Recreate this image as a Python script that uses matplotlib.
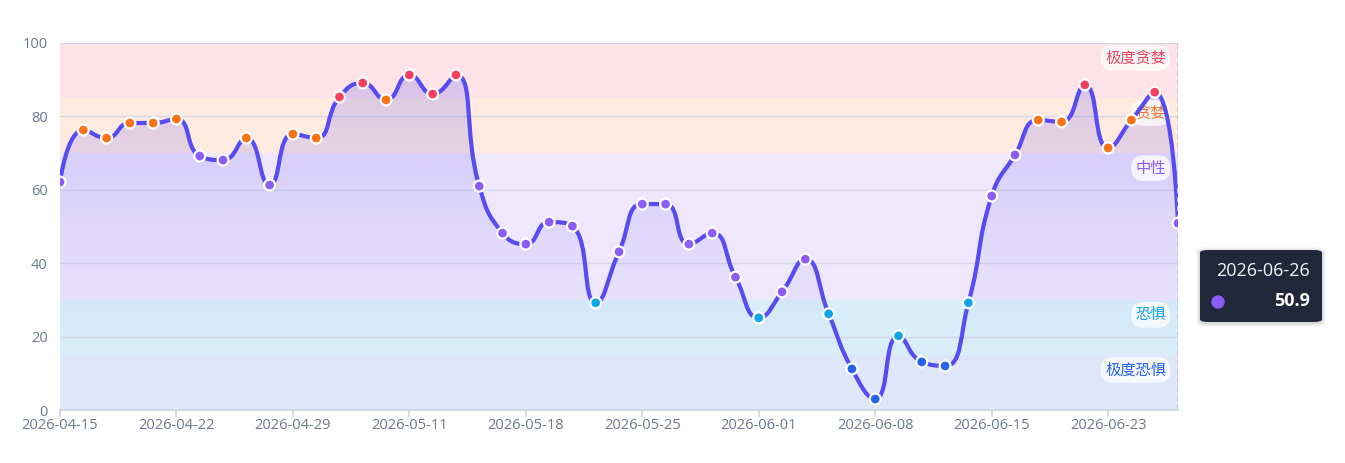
import matplotlib
matplotlib.use("Agg")
import matplotlib.pyplot as plt
from matplotlib.path import Path
from matplotlib.patches import PathPatch, FancyBboxPatch, Ellipse
from matplotlib.colors import to_rgb
import numpy as np

# ---------------- data ----------------
dates = [
    "2026-04-15", "2026-04-16", "2026-04-17", "2026-04-20", "2026-04-21",
    "2026-04-22", "2026-04-23", "2026-04-24", "2026-04-27", "2026-04-28",
    "2026-04-29", "2026-04-30", "2026-05-06", "2026-05-07", "2026-05-08",
    "2026-05-11", "2026-05-12", "2026-05-13", "2026-05-14", "2026-05-15",
    "2026-05-18", "2026-05-19", "2026-05-20", "2026-05-21", "2026-05-22",
    "2026-05-25", "2026-05-26", "2026-05-27", "2026-05-28", "2026-05-29",
    "2026-06-01", "2026-06-02", "2026-06-03", "2026-06-04", "2026-06-05",
    "2026-06-08", "2026-06-09", "2026-06-10", "2026-06-11", "2026-06-12",
    "2026-06-15", "2026-06-16", "2026-06-17", "2026-06-18", "2026-06-22",
    "2026-06-23", "2026-06-24", "2026-06-25", "2026-06-26",
]
values = [
    62.1, 76.3, 74.1, 78.2, 78.2, 79.3, 69.2, 68.1, 74.1, 61.3,
    75.2, 74.1, 85.3, 89.1, 84.5, 91.3, 86.1, 91.3, 61.0, 48.2,
    45.2, 51.2, 50.1, 29.2, 43.1, 56.1, 56.1, 45.2, 48.2, 36.2,
    25.1, 32.2, 41.1, 26.2, 11.2, 3.0, 20.2, 13.1, 12.0, 29.2,
    58.3, 69.5, 79.0, 78.5, 88.6, 71.4, 79.0, 86.6, 50.9,
]
zone_names = ["极度恐惧", "恐惧", "中性", "贪婪", "极度贪婪"]
zone_bounds = [0, 15, 30, 70, 85, 100]
zone_fill = ["#dfe6f9", "#d8eefa", "#eee7fd", "#feeadf", "#fde3e7"]
zone_point = ["#2563eb", "#0ea5e9", "#8b5cf6", "#f97316", "#f43f5e"]
zone_text = ["#2563eb", "#0ea5e9", "#8b5cf6", "#ea7a2c", "#e8465f"]
tick_step = 5

# ---------------- figure ----------------
W, H = 1345, 463
fig = plt.figure(figsize=(W / 100, H / 100), dpi=100)
L, R, T, B = 60, 1178, 43, 410
ax = fig.add_axes([L / W, 1 - B / H, (R - L) / W, (B - T) / H])
n = len(values)
ax.set_xlim(0, n - 1)
ax.set_ylim(0, 100)

# bands
for k in range(5):
    ax.axhspan(zone_bounds[k], zone_bounds[k + 1], color=zone_fill[k], lw=0, zorder=0)

# grid
for yv in [20, 40, 60, 80, 100]:
    ax.axhline(yv, color="#d3d6e6", lw=1, zorder=1, alpha=0.9)

# smooth path (echarts-like, in pixel space)
sx = (R - L) / (n - 1)
sy = (B - T) / 100.0
P = np.array([[i * sx, v * sy] for i, v in enumerate(values)])
smooth = 0.5
cps_in = [None] * n
cps_out = [None] * n
for i in range(n):
    x, y = P[i]
    if i == 0 or i == n - 1:
        cps_in[i] = (x, y)
        cps_out[i] = (x, y)
        continue
    px, py = P[i - 1]
    nx, ny = P[i + 1]
    dx, dy = nx - px, ny - py
    lp = np.hypot(x - px, y - py)
    ln = np.hypot(nx - x, ny - y)
    r = ln / (ln + lp)
    c0x = x + dx * smooth * r
    c0y = y + dy * smooth * r
    c0x = min(c0x, max(nx, x)); c0y = min(c0y, max(ny, y))
    c0x = max(c0x, min(nx, x)); c0y = max(c0y, min(ny, y))
    ddx, ddy = c0x - x, c0y - y
    c1x = x - ddx * lp / ln
    c1y = y - ddy * lp / ln
    c1x = min(c1x, max(px, x)); c1y = min(c1y, max(py, y))
    c1x = max(c1x, min(px, x)); c1y = max(c1y, min(py, y))
    ddx, ddy = x - c1x, y - c1y
    c0x = x + ddx * ln / lp
    c0y = y + ddy * ln / lp
    cps_in[i] = (c1x, c1y)
    cps_out[i] = (c0x, c0y)

def to_data(pt):
    return (pt[0] / sx, pt[1] / sy)

verts = [to_data(P[0])]
codes = [Path.MOVETO]
for i in range(n - 1):
    verts += [to_data(cps_out[i]), to_data(cps_in[i + 1]), to_data(P[i + 1])]
    codes += [Path.CURVE4] * 3

line_color = "#574bf2"
fill_verts = verts + [(n - 1, 0), (0, 0), verts[0]]
fill_codes = codes + [Path.LINETO, Path.LINETO, Path.CLOSEPOLY]
fill_patch = PathPatch(Path(fill_verts, fill_codes), facecolor="none", lw=0, zorder=2)
ax.add_patch(fill_patch)
# vertical gradient under the line (fades out toward the bottom)
top_v = max(values)
yy = np.linspace(top_v, 0, 300)
grad = np.zeros((300, 2, 4))
rgb = to_rgb(line_color)
grad[..., 0], grad[..., 1], grad[..., 2] = rgb
grad[..., 3] = np.clip(0.0028 * (yy - 15), 0, None)[:, None]
im = ax.imshow(grad, extent=(0, n - 1, 0, top_v), origin="upper", aspect="auto",
               zorder=2, interpolation="bilinear")
im.set_clip_path(fill_patch)

ax.add_patch(PathPatch(Path(verts, codes), facecolor="none", edgecolor=line_color,
                       lw=3, zorder=3, capstyle="round", joinstyle="round"))

def zone_of(v):
    if v >= 85: return 4
    if v >= 70: return 3
    if v >= 30: return 2
    if v >= 15: return 1
    return 0

cols = [zone_point[zone_of(v)] for v in values]
ax.scatter(range(n), values, s=62, c=cols, edgecolors="white", linewidths=1.6, zorder=4)

# zone labels (drawn beneath the line, like the reference)
for k in range(5):
    ax.annotate(zone_names[k], xy=(1, zone_bounds[k + 1]), xycoords=("axes fraction", "data"),
                xytext=(-12, -15), textcoords="offset pixels", ha="right", va="center",
                fontsize=11, color=zone_text[k], family=["Noto Sans CJK SC", "DejaVu Sans"],
                bbox=dict(boxstyle="round,pad=0.28,rounding_size=0.8", fc="white", ec="none", alpha=0.75),
                zorder=2.5)

# axes styling
for s in ["top", "right", "left"]:
    ax.spines[s].set_visible(False)
ax.spines["bottom"].set_color("#ccd4e1")
ax.spines["bottom"].set_linewidth(1.2)
ax.set_yticks([0, 20, 40, 60, 80, 100])
ax.tick_params(axis="y", length=0, pad=9, labelsize=10.5, labelcolor="#6b7890")
ticks = list(range(0, n, tick_step))
ax.set_xticks(ticks)
ax.set_xticklabels([dates[i] for i in ticks])
ax.tick_params(axis="x", length=5, width=1.2, color="#ccd4e1", pad=1, labelsize=10.5,
               labelcolor="#6b7890")
for lab in ax.get_xticklabels() + ax.get_yticklabels():
    lab.set_family(["Open Sans", "DejaVu Sans"])

# axis pointer
ax.axvline(n - 1, color="#c3cad6", lw=1.3, ls=(0, (3, 2)), zorder=3.5)

# tooltip
tx0, ty0, tw, th = 1200, 250, 122, 72
for k, a in [(4, 0.03), (2.5, 0.05), (1.2, 0.07)]:
    sh = FancyBboxPatch(((tx0 - k) / W, 1 - (ty0 + th + k + 1) / H), (tw + 2 * k) / W,
                        (th + 2 * k) / H, boxstyle="round,pad=0,rounding_size=0.008",
                        transform=fig.transFigure, fc="black", ec="none", alpha=a, zorder=9)
    fig.patches.append(sh)
box = FancyBboxPatch((tx0 / W, 1 - (ty0 + th) / H), tw / W, th / H,
                     boxstyle="round,pad=0,rounding_size=0.006", transform=fig.transFigure,
                     fc="#21283b", ec="none", zorder=10)
fig.patches.append(box)
fig.text((tx0 + 110) / W, 1 - 271 / H, dates[-1], color="#f1f3f8", fontsize=13,
         family=["Open Sans", "DejaVu Sans"], va="center", ha="right", zorder=11)
fig.text((tx0 + 110) / W, 1 - 301 / H, f"{values[-1]:.1f}", color="white", fontsize=13,
         fontweight="bold", family=["Open Sans", "DejaVu Sans"], va="center", ha="right",
         zorder=11)
dot = Ellipse(((tx0 + 18) / W, 1 - 302 / H), 12 / W, 12 / H, transform=fig.transFigure,
              color=zone_point[zone_of(values[-1])], zorder=11)
fig.patches.append(dot)

fig.savefig("out.png", dpi=100)
